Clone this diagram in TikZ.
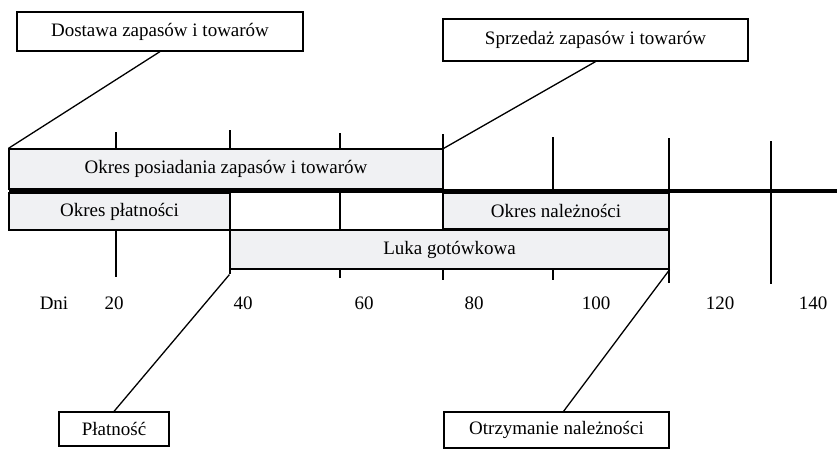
\documentclass[tikz,border=0pt]{standalone}
\usepackage{fontspec}
\setmainfont{Liberation Serif}
\definecolor{boxgray}{RGB}{240,241,243}
\tikzset{
    label box/.style={draw, line width=1.2pt, inner sep=0pt, font=\fontsize{19}{22}\selectfont},
    period box/.style={label box, fill=boxgray},
    tick line/.style={line width=1.2pt},
    link/.style={line width=1.3pt},
    day label/.style={inner sep=0pt, font=\fontsize{19}{22}\selectfont},
}
\begin{document}
\begin{tikzpicture}[x=1pt, y=-1pt]
            \useasboundingbox (0,0) rectangle (837,448);

            % Day ticks
            \foreach \tx/\ttop/\tbot in {116/132/277, 230/130/274, 340/133/278, 443/134/280, 553/137/280, 669/138/283, 771/141/284}
                \draw[tick line] (\tx,\ttop) -- (\tx,\tbot);

            % Periods
            \node[period box, minimum width=434pt, minimum height=40pt] (posiadanie) at (226,169) {Okres posiadania zapasów i towarów};
            \node[period box, minimum width=221pt, minimum height=37pt] (platnosci) at (119.5,211.5) {Okres płatności};
            \node[period box, minimum width=226pt, minimum height=36pt] (naleznosci) at (556,211) {Okres należności};
            \node[period box, minimum width=439pt, minimum height=39pt] (luka) at (449.5,249.5) {Luka gotówkowa};

            % Time axis
            \coordinate (axis start) at (9,191);
            \coordinate (axis end) at (837,191);
            \draw[line width=4pt] (axis start) -- (axis end);

            % Days
            \foreach \lx/\ltext in {54/Dni, 114/20, 243/40, 364/60, 474/80, 596/100, 720/120, 813/140}
                \node[day label] (day-\ltext) at (\lx,303) {\ltext};

            % Events
            \node[label box, minimum width=286pt, minimum height=39pt] (dostawa) at (160,31.5) {Dostawa zapasów i towarów};
            \node[label box, minimum width=305pt, minimum height=42pt] (sprzedaz) at (595.5,40) {Sprzedaż zapasów i towarów};
            \node[label box, minimum width=110pt, minimum height=34pt] (platnosc) at (114,429) {Płatność};
            \node[label box, minimum width=225pt, minimum height=36pt] (otrzymanie) at (556.5,430) {Otrzymanie należności};

            % Event links
            \draw[link] (dostawa.south) -- (posiadanie.north west);
            \draw[link] (sprzedaz.south) -- (posiadanie.north east);
            \draw[link] (platnosc.north) -- ([yshift=-5pt]luka.south west);
            \draw[link] ([xshift=7pt]otrzymanie.north) -- (luka.south east);
        \end{tikzpicture}
\end{document}
